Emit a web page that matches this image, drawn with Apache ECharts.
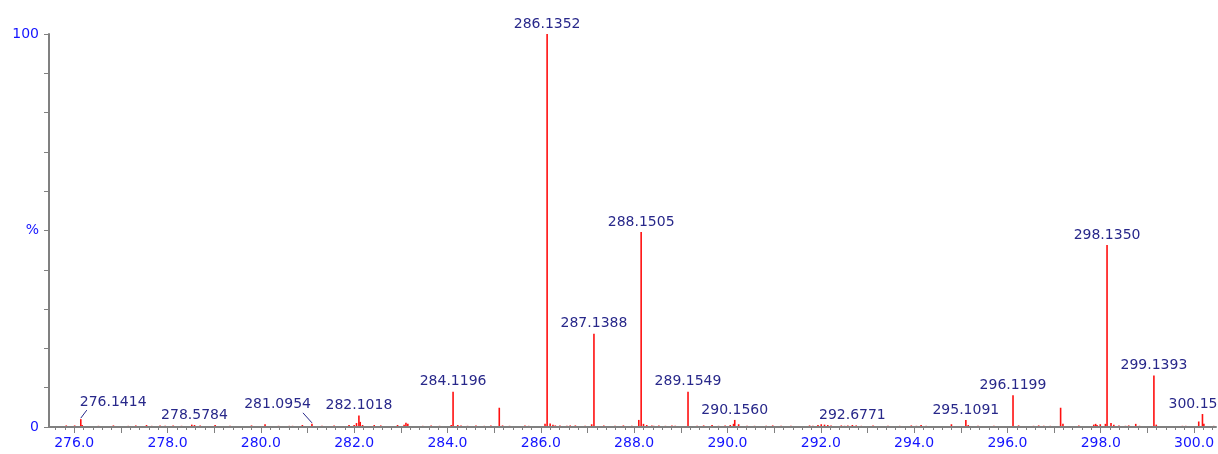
<!DOCTYPE html>
<html>
<head>
<meta charset="utf-8">
<script src="https://cdn.jsdelivr.net/npm/echarts@6/dist/echarts.min.js"></script>
<style>
html,body{margin:0;padding:0;background:#fff;}
#chart{width:1218px;height:454px;}
</style>
</head>
<body>
<div id="chart"></div>
<script>
// ---- data ----
const peakMz = [
  275.83, 276.01, 276.1414, 276.17, 276.52, 276.84, 277.16, 277.32, 277.55, 277.66,
  277.84, 277.95, 278.12, 278.30, 278.52, 278.5784, 278.70, 279.02, 279.34, 279.80,
  280.09, 280.38, 280.61, 280.68, 280.89, 281.0954, 281.31, 281.57, 281.89, 282.00,
  282.05, 282.1018, 282.13, 282.18, 282.43, 282.57, 282.93, 283.07, 283.11, 283.15,
  283.47, 283.65, 283.83, 284.08, 284.1196, 284.22, 284.29, 284.43, 284.61, 284.79,
  284.93, 285.11, 285.18, 285.33, 285.66, 285.74, 286.09, 286.1352, 286.20, 286.26,
  286.31, 286.41, 286.56, 286.63, 286.74, 286.95, 287.09, 287.1388, 287.35, 287.59,
  287.77, 287.95, 288.10, 288.1505, 288.20, 288.27, 288.38, 288.42, 288.53, 288.67,
  288.81, 288.88, 289.1549, 289.35, 289.49, 289.67, 289.81, 289.95, 290.06, 290.13,
  290.1560, 290.24, 290.42, 290.58, 290.83, 290.97, 291.15, 291.36, 291.76, 291.83,
  291.94, 292.01, 292.08, 292.15, 292.22, 292.44, 292.51, 292.58, 292.6771, 292.76,
  292.87, 293.12, 293.44, 293.69, 293.94, 294.05, 294.15, 294.26, 294.80, 295.1091,
  295.16, 295.37, 295.71, 296.1199, 296.24, 296.56, 296.67, 296.78, 296.92, 297.14,
  297.19, 297.53, 297.85, 297.89, 297.92, 297.99, 298.10, 298.1350, 298.22, 298.28,
  298.39, 298.53, 298.60, 298.75, 298.83, 299.1393, 299.19, 299.75, 299.82, 300.10,
  300.18, 300.21, 300.42
];
const peakIntensity = [
  0.4, 0.4, 2.0, 0.5, 0.3, 0.4, 0.3, 0.4, 0.5, 0.3,
  0.4, 0.3, 0.4, 0.3, 0.6, 0.5, 0.4, 0.5, 0.3, 0.4,
  0.7, 0.3, 0.3, 0.3, 0.5, 0.8, 0.3, 0.4, 0.5, 0.5,
  1.0, 2.9, 1.3, 0.5, 0.5, 0.4, 0.5, 0.6, 1.1, 0.8,
  0.3, 0.4, 0.3, 0.5, 9.0, 0.5, 0.4, 0.3, 0.4, 0.3,
  0.4, 4.9, 0.4, 0.3, 0.4, 0.3, 0.8, 100, 0.9, 0.6,
  0.4, 0.4, 0.3, 0.4, 0.4, 0.3, 0.7, 23.7, 0.4, 0.3,
  0.4, 0.3, 1.8, 49.6, 0.8, 0.5, 0.4, 0.3, 0.4, 0.3,
  0.4, 0.3, 9.0, 0.3, 0.4, 0.5, 0.3, 0.4, 0.5, 0.8,
  1.8, 0.7, 0.3, 0.3, 0.3, 0.4, 0.3, 0.3, 0.4, 0.3,
  0.5, 0.7, 0.6, 0.5, 0.4, 0.4, 0.3, 0.4, 0.5, 0.4,
  0.3, 0.4, 0.3, 0.3, 0.4, 0.3, 0.5, 0.3, 0.7, 1.8,
  0.5, 0.3, 0.3, 8.1, 0.4, 0.3, 0.4, 0.3, 0.3, 4.9,
  0.8, 0.4, 0.6, 0.8, 0.5, 0.7, 0.8, 46.3, 1.0, 0.6,
  0.4, 0.3, 0.4, 0.8, 0.3, 13.1, 0.6, 0.3, 0.3, 1.4,
  3.3, 0.8, 0.3
];
const labelMz = [276.1414, 278.5784, 281.0954, 282.1018, 284.1196, 286.1352, 287.1388, 288.1505,
  289.1549, 290.1560, 292.6771, 295.1091, 296.1199, 298.1350, 299.1393, 300.18];
const labelText = ['276.1414', '278.5784', '281.0954', '282.1018', '284.1196', '286.1352', '287.1388', '288.1505',
  '289.1549', '290.1560', '292.6771', '295.1091', '296.1199', '298.1350', '299.1393', '300.15'];
const xTickLabels = [276, 278, 280, 282, 284, 286, 288, 290, 292, 294, 296, 298, 300];
const yTickLabels = {0: '0', 50: '%', 100: '100'};

// ---- helpers ----
const X_MIN = 275.46, X_MAX = 300.47;
const majorTicks = [];
for (let v = 276; v <= 300; v++) majorTicks.push(v);
const minorTicks = [];
for (let k = Math.ceil(X_MIN * 5); k <= Math.floor(X_MAX * 5); k++) minorTicks.push(k / 5);

const peakData = peakMz.map((m, i) => [m, peakIntensity[i]]);
const labelData = labelMz.map((m, i) => {
  const idx = peakMz.indexOf(m);
  return [m, peakIntensity[idx], i];
});

const FONT = '14px "DejaVu Sans"';
const LABEL_COLOR = '#28288a';
const AXIS_LABEL_COLOR = '#1414ff';

const chart = echarts.init(document.getElementById('chart'), null, {renderer: 'canvas'});
chart.setOption({
  animation: false,
  backgroundColor: '#ffffff',
  grid: {left: 49, right: 2, top: 34, bottom: 27, containLabel: false},
  xAxis: [
    {
      type: 'value', min: X_MIN, max: X_MAX, position: 'bottom',
      axisLine: {show: true, lineStyle: {color: '#808080', width: 2}},
      axisTick: {show: true, customValues: majorTicks, length: 6, lineStyle: {color: '#808080', width: 1}},
      axisLabel: {
        show: true, customValues: xTickLabels, margin: 9,
        formatter: v => Number(v).toFixed(1),
        color: AXIS_LABEL_COLOR, fontSize: 14, fontFamily: 'DejaVu Sans'
      },
      splitLine: {show: false}
    },
    {
      type: 'value', min: X_MIN, max: X_MAX, position: 'bottom',
      axisLine: {show: false},
      axisTick: {show: true, customValues: minorTicks, length: 3, lineStyle: {color: '#808080', width: 1}},
      axisLabel: {show: false},
      splitLine: {show: false}
    }
  ],
  yAxis: {
    type: 'value', min: 0, max: 100, interval: 10,
    axisLine: {show: true, lineStyle: {color: '#808080', width: 2}},
    axisTick: {show: true, length: 5, lineStyle: {color: '#808080', width: 1}},
    axisLabel: {
      show: true, margin: 10,
      formatter: v => (yTickLabels[v] !== undefined ? yTickLabels[v] : ''),
      color: AXIS_LABEL_COLOR, fontSize: 14, fontFamily: 'DejaVu Sans'
    },
    splitLine: {show: false}
  },
  series: [
    {
      type: 'custom',
      xAxisIndex: 0,
      data: peakData,
      clip: false,
      renderItem: function (params, api) {
        const p0 = api.coord([api.value(0), 0]);
        const p1 = api.coord([api.value(0), api.value(1)]);
        return {
          type: 'line',
          shape: {x1: p0[0], y1: p0[1] - 1, x2: p1[0], y2: p1[1]},
          style: {stroke: '#ff0f0f', lineWidth: 1.6}
        };
      }
    },
    {
      type: 'custom',
      xAxisIndex: 0,
      data: labelData,
      clip: false,
      z: 5,
      renderItem: function (params, api) {
        const p = api.coord([api.value(0), api.value(1)]);
        const text = labelText[api.value(2)];
        const children = [];
        let tx = p[0], ty = p[1] - 3, align = 'center';
        if (text === '276.1414') {
          children.push({type: 'line', shape: {x1: p[0], y1: p[1] - 1, x2: p[0] + 6, y2: p[1] - 9},
            style: {stroke: LABEL_COLOR, lineWidth: 1}});
          tx = p[0] - 1; ty = p[1] - 10; align = 'left';
        } else if (text === '281.0954') {
          children.push({type: 'line', shape: {x1: p[0], y1: p[1] - 1, x2: p[0] - 9, y2: p[1] - 11},
            style: {stroke: LABEL_COLOR, lineWidth: 1}});
          tx = p[0] - 1; ty = p[1] - 12; align = 'right';
        } else if (text === '300.15') {
          tx = p[0] - 34; align = 'left';
        }
        children.push({
          type: 'text',
          x: tx, y: ty,
          style: {text: text, fill: LABEL_COLOR, font: FONT, align: align, verticalAlign: 'bottom'}
        });
        return {type: 'group', children: children};
      }
    }
  ]
});
</script>
</body>
</html>
